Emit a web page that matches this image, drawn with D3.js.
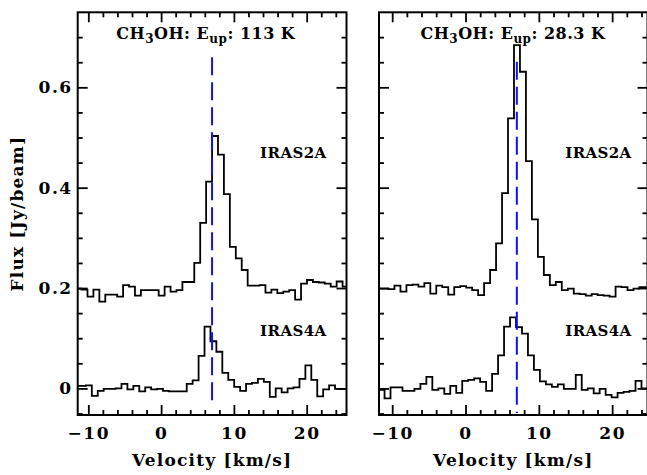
<!DOCTYPE html>
<html>
<head>
<meta charset="utf-8">
<script src="https://cdn.jsdelivr.net/npm/d3@7"></script>
<style>
body { margin: 0; background: #fff; }
text { font-family: "DejaVu Serif", serif; font-weight: bold; fill: #000; }
</style>
</head>
<body>
<script>
// channel width (km/s) and source velocity
var dv = 0.815;
var vlsr = 7.0;

// E_up = 113 K panel
var iras2a_113_v0 = -11.745;
var iras2a_113 = [0.199, 0.197, 0.183, 0.197, 0.173, 0.187, 0.187, 0.183, 0.206, 0.203,
    0.185, 0.196, 0.196, 0.196, 0.185, 0.203, 0.193, 0.196, 0.212, 0.212,
    0.250, 0.330, 0.412, 0.503, 0.466, 0.387, 0.282, 0.259, 0.236, 0.205,
    0.205, 0.206, 0.191, 0.197, 0.190, 0.193, 0.196, 0.177, 0.209, 0.216,
    0.212, 0.211, 0.209, 0.203, 0.213, 0.203];
var iras4a_113_v0 = -11.965;
var iras4a_113 = [0.005, 0.005, 0.006, -0.015, -0.005, -0.001, -0.001, 0.000, 0.009, -0.002,
    0.005, -0.006, 0.002, -0.002, -0.001, -0.005, -0.006, -0.006, -0.006, 0.009,
    0.016, 0.065, 0.123, 0.094, 0.073, 0.031, 0.017, 0.003, -0.005, 0.009,
    0.011, 0.019, 0.013, -0.017, 0.000, -0.008, 0.000, 0.002, 0.019, 0.046,
    0.017, -0.016, -0.002, 0.006, -0.001, -0.001];

// E_up = 28.3 K panel
var iras2a_283_v0 = -12.135;
var iras2a_283 = [0.199, 0.199, 0.198, 0.205, 0.193, 0.206, 0.207, 0.203, 0.210, 0.189,
    0.205, 0.202, 0.187, 0.202, 0.204, 0.201, 0.196, 0.186, 0.210, 0.236,
    0.289, 0.389, 0.538, 0.684, 0.631, 0.453, 0.337, 0.262, 0.226, 0.206,
    0.212, 0.196, 0.199, 0.189, 0.188, 0.185, 0.188, 0.186, 0.185, 0.183,
    0.203, 0.202, 0.196, 0.199, 0.202, 0.202];
var iras4a_283_v0 = -11.86;
var iras4a_283 = [-0.003, -0.020, 0.002, 0.002, -0.005, -0.005, -0.001, 0.009, 0.023, -0.003,
    0.000, -0.011, 0.005, -0.009, 0.015, 0.017, 0.020, 0.013, -0.005, 0.029,
    0.066, 0.123, 0.1415, 0.122, 0.109, 0.066, 0.037, 0.014, 0.008, 0.003,
    0.008, -0.001, -0.001, 0.027, -0.003, 0.000, -0.010, -0.001, -0.013, -0.018,
    -0.009, -0.007, -0.005, 0.015, 0.000];

var xMajor = [-10, 0, 10, 20];
var yMajor = [0, 0.2, 0.4, 0.6];
var xDomLeft = [-11.46, 25.47];
var xDomRight = [-11.8, 24.82];
var yDom = [-0.053, 0.7495];
var eups = ["113 K", "28.3 K"];
var sources = ["IRAS2A", "IRAS4A"];

var width = 647, height = 475;
var top0 = 12.3, bottom0 = 415;

var svg = d3.select("body").append("svg")
    .attr("width", width)
    .attr("height", height);

var panels = [
    {x0: 77.7, x1: 346.5, dom: xDomLeft, eup: eups[0],
        spec: [[iras2a_113_v0, iras2a_113], [iras4a_113_v0, iras4a_113]], ylab: true},
    {x0: 379, x1: 647.5, dom: xDomRight, eup: eups[1],
        spec: [[iras2a_283_v0, iras2a_283], [iras4a_283_v0, iras4a_283]], ylab: false}
];

var y = d3.scaleLinear().domain(yDom).range([bottom0, top0]);

panels.forEach(function (p, k) {
    var x = d3.scaleLinear().domain(p.dom).range([p.x0, p.x1]);
    var g = svg.append("g");

    var xMinor = d3.range(-12, 26, 2).filter(function (v) {
        return v > p.dom[0] && v < p.dom[1] && xMajor.indexOf(v) < 0;
    });
    var yMinor = d3.range(-0.05, 0.76, 0.05).map(function (v) { return Math.round(v * 100) / 100; })
        .filter(function (v) {
            return v > yDom[0] && v < yDom[1] && yMajor.indexOf(v) < 0;
        });

    // clip for the spectra
    g.append("clipPath").attr("id", "clip" + k)
        .append("rect")
        .attr("x", p.x0).attr("y", top0)
        .attr("width", p.x1 - p.x0).attr("height", bottom0 - top0);

    var line = d3.line()
        .x(function (d) { return x(d[0]); })
        .y(function (d) { return y(d[1]); })
        .curve(d3.curveStepAfter);

    p.spec.forEach(function (s) {
        var v0 = s[0], vals = s[1];
        var pts = vals.map(function (f, i) { return [v0 + i * dv, f]; });
        pts.push([v0 + vals.length * dv, vals[vals.length - 1]]);
        g.append("path")
            .attr("clip-path", "url(#clip" + k + ")")
            .attr("d", line(pts))
            .attr("fill", "none")
            .attr("stroke", "#000")
            .attr("stroke-width", 1.8);
    });

    // systemic velocity
    g.append("line")
        .attr("x1", x(vlsr)).attr("x2", x(vlsr))
        .attr("y1", y(k === 0 ? 0.66 : 0.651))
        .attr("y2", y(k === 0 ? -0.037 : -0.049))
        .attr("stroke", "#1010ff")
        .attr("stroke-width", 2)
        .attr("stroke-dasharray", "18,7");

    // axes, ticks inward on all sides
    function addAxis(axis, tr) {
        var a = g.append("g").attr("transform", tr).call(axis);
        a.select(".domain").remove();
        a.selectAll(".tick line").attr("stroke", "#000").attr("stroke-width", 1.8);
        a.selectAll("text").style("font-size", "17px").style("letter-spacing", "1.5px")
            .attr("font-family", null).attr("fill", "#000");
        return a;
    }
    addAxis(d3.axisBottom(x).tickValues(xMajor).tickSize(-10).tickPadding(12)
        .tickFormat(d3.format("d")), "translate(0," + bottom0 + ")");
    addAxis(d3.axisBottom(x).tickValues(xMinor).tickSize(-5).tickFormat(""), "translate(0," + bottom0 + ")");
    addAxis(d3.axisTop(x).tickValues(xMajor).tickSize(-10).tickFormat(""), "translate(0," + top0 + ")");
    addAxis(d3.axisTop(x).tickValues(xMinor).tickSize(-5).tickFormat(""), "translate(0," + top0 + ")");
    addAxis(d3.axisLeft(y).tickValues(yMajor).tickSize(-10).tickPadding(5)
        .tickFormat(p.ylab ? function (d) { return d === 0 ? "0" : d3.format(".1f")(d); } : ""),
        "translate(" + p.x0 + ",0)");
    addAxis(d3.axisLeft(y).tickValues(yMinor).tickSize(-5).tickFormat(""), "translate(" + p.x0 + ",0)");
    addAxis(d3.axisRight(y).tickValues(yMajor).tickSize(-10).tickFormat(""), "translate(" + p.x1 + ",0)");
    addAxis(d3.axisRight(y).tickValues(yMinor).tickSize(-5).tickFormat(""), "translate(" + p.x1 + ",0)");

    g.append("rect")
        .attr("x", p.x0).attr("y", top0)
        .attr("width", p.x1 - p.x0).attr("height", bottom0 - top0)
        .attr("fill", "none")
        .attr("stroke", "#000")
        .attr("stroke-width", 2);

    // title
    var t = g.append("text")
        .attr("x", x(-6.15)).attr("y", top0 + 27)
        .style("font-size", "16px")
        .style("letter-spacing", "0.5px")
        .style("white-space", "pre");
    t.append("tspan").text("CH");
    t.append("tspan").attr("dy", 4).style("font-size", "12px").text("3");
    t.append("tspan").attr("dy", -4).text("OH: E");
    t.append("tspan").attr("dy", 4).style("font-size", "12px").text("up");
    t.append("tspan").attr("dy", -4).text(": " + p.eup);

    // source labels
    g.append("text").attr("x", x(13.6)).attr("y", y(0.46))
        .style("font-size", "15px").style("letter-spacing", "0.4px").text(sources[0]);
    g.append("text").attr("x", x(13.6)).attr("y", y(0.104))
        .style("font-size", "15px").style("letter-spacing", "0.4px").text(sources[1]);

    // x label
    g.append("text")
        .attr("x", (p.x0 + p.x1) / 2).attr("y", 466)
        .attr("text-anchor", "middle")
        .style("font-size", "17px")
        .style("letter-spacing", "1.2px")
        .text("Velocity [km/s]");

    if (p.ylab) {
        g.append("text")
            .attr("transform", "translate(23," + (top0 + bottom0) / 2 + ") rotate(-90)")
            .attr("text-anchor", "middle")
            .style("font-size", "17px")
            .style("letter-spacing", "1.2px")
            .text("Flux [Jy/beam]");
    }
});
</script>
</body>
</html>
